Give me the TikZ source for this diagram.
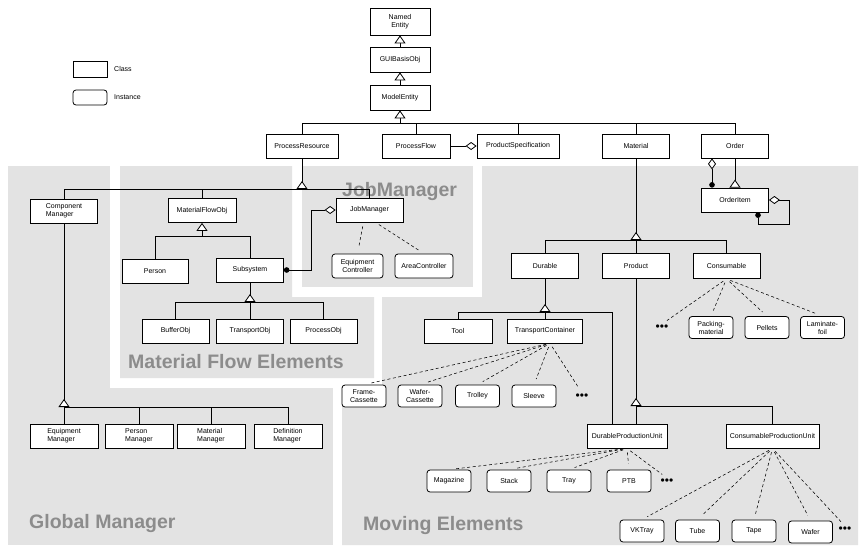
\documentclass[tikz,border=0pt]{standalone}
\usepackage{fontspec}
\setmainfont{Liberation Sans}
\usetikzlibrary{arrows.meta,calc}
\definecolor{panel}{RGB}{227,227,227}
\definecolor{ttl}{RGB}{140,140,140}
\tikzset{
  cls/.style={draw, fill=white, line width=0.8pt, inner sep=1pt, minimum height=24pt,
    font=\fontsize{7}{8}\selectfont, align=center},
  clsl/.style={cls, align=left},
  ins/.style={cls, rounded corners=3pt, minimum height=22pt},
  dots/.style={inner sep=1pt, font=\fontsize{12}{12}\selectfont},
  ttlstyle/.style={anchor=base west, inner sep=0pt, text=ttl, font=\fontsize{19.5}{22}\selectfont\bfseries},
  lbl/.style={anchor=west, inner sep=1pt, font=\fontsize{7}{8}\selectfont},
  ln/.style={line width=0.8pt},
  genbus/.style={ln, -{Triangle[reversed, length=8pt, width=11pt, fill=white]}},
  genup/.style={ln, {Triangle[length=8pt, width=11pt, fill=white]}-},
  agg/.style={ln, -{Diamond[length=11pt, width=8pt, fill=white]}},
  aggcomp/.style={ln, {Diamond[length=11pt, width=8pt, fill=white]}-{Circle[length=5.5pt]}},
  dep/.style={line width=0.55pt, dash pattern=on 3pt off 2.5pt, shorten <=4pt, shorten >=6pt}
}
\begin{document}
\begin{tikzpicture}[x=1pt, y=-1pt]
\useasboundingbox (0,0) rectangle (864,546);
% panels
\fill[panel] (8,166) rectangle (110,545);
\fill[panel] (8,388) rectangle (333,545);
\fill[panel] (120,166) -- (292,166) -- (292,297) -- (374,297) -- (374,378) -- (120,378) -- cycle;
\fill[panel] (302,166) rectangle (473,287);
\fill[panel] (482,166) -- (858,166) -- (858,545) -- (342,545) -- (342,386) -- (382,386) -- (382,297) -- (482,297) -- cycle;
% titles
\node[ttlstyle] (tJM) at (342,196) {JobManager};
\node[ttlstyle] (tMF) at (128,368) {Material Flow Elements};
\node[ttlstyle] (tGM) at (29,528) {Global Manager};
\node[ttlstyle] (tME) at (363,530) {Moving Elements};
% legend
\node[cls, minimum width=34pt, minimum height=16pt] (legC) at (90,69) {};
\node[lbl] (legCt) at (113,69) {Class};
\node[cls, rounded corners=3pt, minimum width=34pt, minimum height=15pt] (legI) at (90,97.5) {};
\node[lbl] (legIt) at (113,97.5) {Instance};
% top chain
\node[cls, minimum width=60pt, minimum height=27pt] (NE) at (400,21.5) {Named\\Entity};
\node[cls, minimum width=60pt, minimum height=25pt] (GUI) at (400,59.5) {GUIBasisObj};
\node[cls, minimum width=60pt, minimum height=25pt] (ME) at (400,97.5) {ModelEntity};
% second row
\node[cls, minimum width=72pt] (PR) at (302,146) {ProcessResource};
\node[cls, minimum width=68pt] (PF) at (416,146) {ProcessFlow};
\node[cls, minimum width=82pt] (PS) at (518,146) {ProductSpecification};
\node[cls, minimum width=67pt] (MA) at (636,146) {Material};
\node[cls, minimum width=67pt] (OR) at (735,146) {Order};
\node[cls, minimum width=67pt] (OI) at (735,200) {OrderItem};
% left side
\node[clsl, minimum width=67pt] (CM) at (64,211) {Component\\Manager};
\node[cls, minimum width=68pt] (MFO) at (202,210.5) {MaterialFlowObj};
\node[cls, minimum width=66pt] (Per) at (155,271) {Person};
\node[cls, minimum width=67pt] (Sub) at (250,270) {Subsystem};
\node[cls, minimum width=67pt] (Buf) at (175.5,331) {BufferObj};
\node[cls, minimum width=67pt] (Tra) at (250,331) {TransportObj};
\node[cls, minimum width=67pt] (Pro) at (323.5,331) {ProcessObj};
\node[cls, minimum width=67pt] (JM) at (369.5,210) {JobManager};
\node[ins, minimum width=51pt, minimum height=24pt] (EC) at (357.5,266) {Equipment\\Controller};
\node[ins, minimum width=58pt, minimum height=24pt] (AC) at (424,266) {AreaController};
\node[clsl, minimum width=68pt] (EM) at (64,436) {Equipment\\Manager};
\node[clsl, minimum width=68pt] (PM) at (139,436) {Person\\Manager};
\node[clsl, minimum width=68pt] (MM) at (211,436) {Material\\Manager};
\node[clsl, minimum width=68pt] (DM) at (288,436) {Definition\\Manager};
% right side
\node[cls, minimum width=67pt, minimum height=25pt] (Dur) at (545,266) {Durable};
\node[cls, minimum width=67pt, minimum height=25pt] (Prod) at (636,266) {Product};
\node[cls, minimum width=67pt, minimum height=25pt] (Cons) at (726.5,266) {Consumable};
\node[cls, minimum width=68pt] (Tool) at (458,331) {Tool};
\node[cls, minimum width=75pt] (TC) at (545,331) {TransportContainer};
\node[ins, minimum width=44pt] (FC) at (364,396) {Frame-\\Cassette};
\node[ins, minimum width=44pt] (WC) at (420,396) {Wafer-\\Cassette};
\node[ins, minimum width=44pt] (Trol) at (477.5,396) {Trolley};
\node[ins, minimum width=44pt] (Slv) at (534,396) {Sleeve};
\node[dots] (dTC) at (582,397) {•••};
\node[ins, minimum width=44pt] (Pack) at (711,327.5) {Packing-\\material};
\node[ins, minimum width=44pt] (Pel) at (767,327.5) {Pellets};
\node[ins, minimum width=44pt] (Lam) at (822.5,327.5) {Laminate-\\foil};
\node[dots] (dCons) at (662,328) {•••};
\node[cls, minimum width=80pt] (DPU) at (627,436) {DurableProductionUnit};
\node[cls, minimum width=93pt] (CPU) at (772.5,436) {ConsumableProductionUnit};
\node[ins, minimum width=44pt] (Mag) at (449,481) {Magazine};
\node[ins, minimum width=44pt] (Stk) at (509,481) {Stack};
\node[ins, minimum width=44pt] (Try) at (569,481) {Tray};
\node[ins, minimum width=44pt] (PTB) at (629,481) {PTB};
\node[dots] (dDPU) at (667,482) {•••};
\node[ins, minimum width=44pt] (VK) at (642,531) {VKTray};
\node[ins, minimum width=44pt] (Tube) at (697.5,531) {Tube};
\node[ins, minimum width=44pt] (Tape) at (754,531) {Tape};
\node[ins, minimum width=44pt] (Waf) at (810.5,532) {Wafer};
\node[dots] (dCPU) at (845,530) {•••};
% junctions
\coordinate (jME) at (400,123);
\coordinate (jPR) at (302,189);
\coordinate (jCM) at (64,407);
\coordinate (jMFO) at (202,236);
\coordinate (jSub) at (250,302);
\coordinate (jMA) at (636,240);
\coordinate (jDur) at (545,312);
\coordinate (jProd) at (636,406);
% generalizations
\draw[genup] (NE.south) -- (GUI.north);
\draw[genup] (GUI.south) -- (ME.north);
\draw[genup] (ME.south) -- (jME);
\draw[ln] (PR.north) |- (OR.north |- jME) -- (OR.north);
\draw[ln] (PF.north) -- (PF.north |- jME);
\draw[ln] (PS.north) -- (PS.north |- jME);
\draw[ln] (MA.north) -- (MA.north |- jME);
\draw[genbus] (PR.south) -- (jPR);
\draw[ln] (CM.north) |- (jPR);
\draw[ln] (MFO.north) |- (jPR);
\draw[ln] (JM.north) |- (jPR);
\draw[genup] (MFO.south) -- (jMFO);
\draw[ln] (Per.north) |- (jMFO);
\draw[ln] (Sub.north) |- (jMFO);
\draw[genbus] (Sub.south) -- (jSub);
\draw[ln] (Buf.north) |- (jSub);
\draw[ln] (Tra.north) -- (jSub);
\draw[ln] (Pro.north) |- (jSub);
\draw[genbus] (CM.south) -- (jCM);
\draw[ln] (EM.north) -- (jCM);
\draw[ln] (PM.north) |- (jCM);
\draw[ln] (MM.north) |- (jCM);
\draw[ln] (DM.north) |- (jCM);
\draw[genbus] (MA.south) -- (jMA);
\draw[ln] (Dur.north) |- (jMA);
\draw[ln] (Prod.north) -- (jMA);
\draw[ln] (Cons.north) |- (jMA);
\draw[genbus] (Dur.south) -- (jDur);
\draw[ln] (Tool.north) |- (jDur);
\draw[ln] (TC.north) -- (jDur);
\draw[ln] (jDur) -| ([xshift=-15pt]DPU.north);
\draw[genbus] (Prod.south) -- (jProd);
\draw[ln] (jProd) -- (jProd |- DPU.north);
\draw[ln] (jProd) -| (CPU.north);
\draw[genbus] (OR.south) -- (OI.north);
% aggregations
\draw[agg] (PF.east) -- (PS.west);
\draw[aggcomp] ([xshift=-23pt]OR.south) -- ([xshift=-23pt]OI.north);
\draw[aggcomp] (OI.east) -- ++(20,0) |- ([xshift=23pt,yshift=-12pt]OI.south) -- ([xshift=23pt]OI.south);
\draw[aggcomp] (JM.west) -- ++(-24,0) |- (Sub.east);
% instance dependencies
\draw[dep] ([xshift=-6pt]JM.south) -- (EC.north);
\draw[dep] ([xshift=6pt]JM.south) -- (AC.north);
\foreach \n in {dCons,Pack,Pel,Lam} \draw[dep] (Cons.south) -- (\n.north);
\foreach \n in {FC,WC,Trol,Slv,dTC} \draw[dep] ([xshift=5pt]TC.south) -- (\n.north);
\foreach \n in {Mag,Stk,Try,PTB,dDPU} \draw[dep] (DPU.south) -- (\n.north);
\foreach \n in {VK,Tube,Tape,Waf,dCPU} \draw[dep] (CPU.south) -- (\n.north);
\end{tikzpicture}
\end{document}
